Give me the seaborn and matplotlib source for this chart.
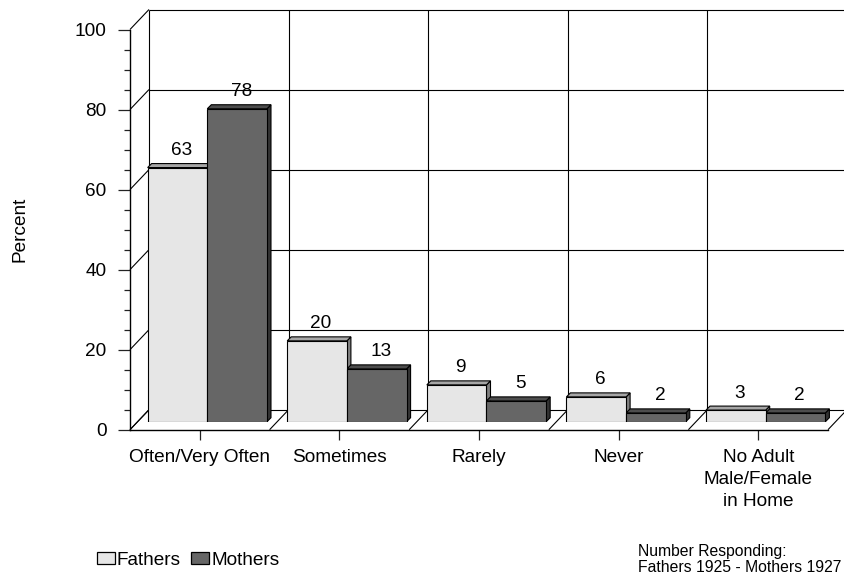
import numpy as np
import pandas as pd
import matplotlib
matplotlib.use("Agg")
import matplotlib.pyplot as plt
from matplotlib.patches import Polygon, Patch
from matplotlib.ticker import MultipleLocator
import seaborn as sns

categories = ["Often/Very Often", "Sometimes", "Rarely", "Never", "No Adult\nMale/Female\nin Home"]
fathers = [63.5, 20.2, 9.2, 6.2, 2.9]
mothers = [78.2, 13.2, 5.2, 2.2, 2.2]
fathers_labels = [63, 20, 9, 6, 3]
mothers_labels = [78, 13, 5, 2, 2]
series_names = ["Fathers", "Mothers"]

W, H = 845, 577
sns.set_style("ticks")
plt.rcParams["font.family"] = ["Liberation Sans", "DejaVu Sans"]
plt.rcParams["axes.linewidth"] = 1.0
plt.rcParams["text.color"] = "black"
plt.rcParams["axes.labelcolor"] = "black"
plt.rcParams["xtick.labelcolor"] = "black"
plt.rcParams["ytick.labelcolor"] = "black"

FS = 13.7
LEFT, RIGHT, BASE, TOP = 130.0, 828.0, 429.7, 29.5
DEPTH_X, DEPTH_Y = 19.0, 20.0      # wall depth in px
BAR_DX, BAR_DY = 7.5, 8.0          # bar front plane offset in px
BAR_D = 4.0                        # bar depth in px

def rect(l, r, base, top):
    return [l / W, 1 - base / H, (r - l) / W, (base - top) / H]

fig = plt.figure(figsize=(W / 100, H / 100), dpi=100, facecolor="white")
ax = fig.add_axes(rect(LEFT, RIGHT, BASE, TOP))
ax_bars = fig.add_axes(rect(LEFT + BAR_DX, RIGHT + BAR_DX, BASE - BAR_DY, TOP - BAR_DY))
ax_bars.set_zorder(ax.get_zorder() + 1)

n = len(categories)
ax.set_xlim(-0.5, n - 0.5)
ax.set_ylim(0, 100)
px_x = (RIGHT - LEFT) / n          # px per category
px_y = (BASE - TOP) / 100          # px per unit
dx, dy = DEPTH_X / px_x, DEPTH_Y / px_y

# front-plane axis
for s in ("top", "right"):
    ax.spines[s].set_visible(False)
ax.spines["left"].set_color("black")
ax.spines["bottom"].set_color("black")
ax.set_facecolor("none")
ax.set_xticks(range(n))
ax.set_xticklabels(categories, fontsize=FS, linespacing=1.38)
ax.yaxis.set_major_locator(MultipleLocator(20))
ax.yaxis.set_minor_locator(MultipleLocator(5))
ax.tick_params(axis="y", which="major", length=8.6, width=0.9, labelsize=FS, color="#222222", pad=8.2)
ax.tick_params(axis="y", which="minor", length=4.3, width=0.9, color="#222222")
ax.tick_params(axis="x", length=7.2, width=0.9, color="#222222", pad=6.5)
ax.set_ylabel("Percent", fontsize=FS)
ax.yaxis.set_label_coords((28 - LEFT) / (RIGHT - LEFT), 0.5)

line_kw = dict(color="black", lw=0.8, clip_on=False, solid_capstyle="butt", zorder=1)
for v in range(0, 101, 20):
    ax.plot([-0.5 + dx, n - 0.5 + dx], [v + dy, v + dy], **line_kw)
    ax.plot([-0.5, -0.5 + dx], [v, v + dy], **line_kw)
for b in range(0, n + 1):
    ax.plot([b - 0.5, b - 0.5 + dx], [0, dy], **line_kw)
    if b < n:
        ax.plot([b - 0.5 + dx] * 2, [dy, 100 + dy], **line_kw)

# bars
df = pd.DataFrame({
    "category": categories * 2,
    "series": [series_names[0]] * n + [series_names[1]] * n,
    "value": fathers + mothers,
})
front_colors = {"Fathers": "#e6e6e6", "Mothers": "#666666"}
top_colors = {"Fathers": "#a6a6a6", "Mothers": "#4d4d4d"}
side_colors = {"Fathers": "#808080", "Mothers": "#333333"}
sns.barplot(data=df, x="category", y="value", hue="series", palette=front_colors,
            hue_order=series_names, order=categories, width=0.855, dodge=True, gap=0,
            edgecolor="black", linewidth=0.8, legend=False, ax=ax_bars, zorder=3)
ax_bars.set_xlim(-0.5, n - 0.5)
ax_bars.set_ylim(0, 100)
ax_bars.axis("off")

ddx, ddy = BAR_D / px_x, BAR_D / px_y
all_labels = [fathers_labels, mothers_labels]
for si, container in enumerate(ax_bars.containers):
    name = series_names[si]
    for i, bar in enumerate(container):
        l, w, h = bar.get_x(), bar.get_width(), bar.get_height()
        r = l + w
        ax_bars.add_patch(Polygon([(r, 0), (r + ddx, ddy), (r + ddx, h + ddy), (r, h)],
                                  closed=True, fc=side_colors[name], ec="black", lw=0.8,
                                  clip_on=False, zorder=1 + si))
        ax_bars.add_patch(Polygon([(l, h), (l + ddx, h + ddy), (r + ddx, h + ddy), (r, h)],
                                  closed=True, fc=top_colors[name], ec="black", lw=0.8,
                                  clip_on=False, zorder=1 + si))
        ax_bars.annotate(str(all_labels[si][i]), (l + w / 2 + ddx, h), xytext=(0, 9),
                         textcoords="offset points", ha="center", va="baseline",
                         fontsize=FS, color="black", annotation_clip=False, zorder=6)

# legend
handles = [Patch(fc=front_colors[s], ec="black", lw=0.9) for s in series_names]
fig.legend(handles, series_names, loc="lower left", bbox_to_anchor=(97 / W, 1 - 569 / H),
           ncol=2, frameon=False, fontsize=FS, borderpad=0, borderaxespad=0,
           handlelength=0.92, handleheight=0.6, handletextpad=0.12, columnspacing=0.55)

fig.text(638 / W, 1 - 575 / H, "Number Responding:\nFathers 1925 - Mothers 1927",
         fontsize=11.3, ha="left", va="bottom", linespacing=1.1)

fig.savefig("out.png", dpi=100)
